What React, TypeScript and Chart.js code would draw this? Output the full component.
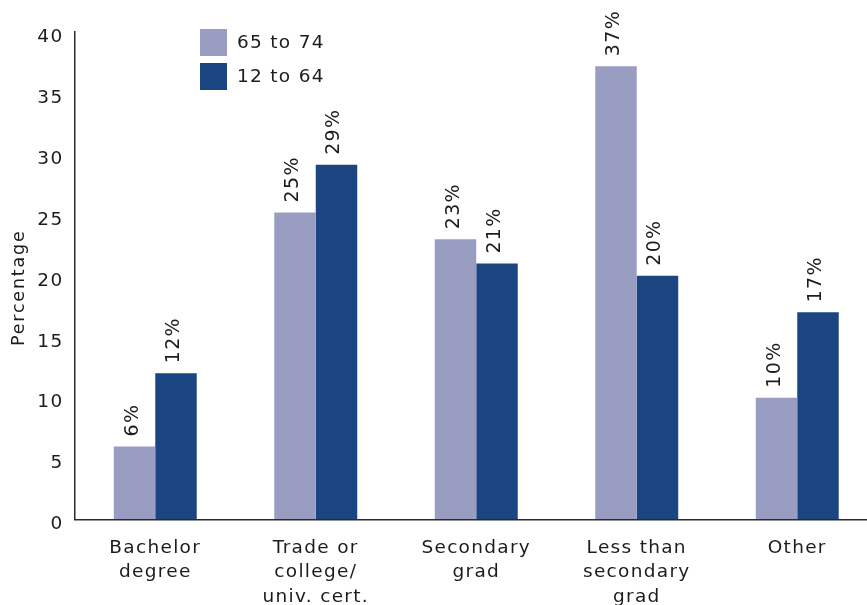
import { useEffect, useRef } from 'react';
import { Chart, registerables } from 'chart.js';

Chart.register(...registerables);

const categories: string[][] = [
  ['Bachelor', 'degree'],
  ['Trade or', 'college/', 'univ. cert.'],
  ['Secondary', 'grad'],
  ['Less than', 'secondary', 'grad'],
  ['Other'],
];
const seriesNames = ['65 to 74', '12 to 64'];
const values6574 = [6, 25.2, 23, 37.2, 10];
const values1264 = [12, 29.1, 21, 20, 17];
const labels6574 = ['6%', '25%', '23%', '37%', '10%'];
const labels1264 = ['12%', '29%', '21%', '20%', '17%'];
const yMin = 0;
const yMax = 40;
const yStep = 5;
const yTitle = 'Percentage';

const colorLight = '#9a9dc2';
const colorDark = '#1a4580';
const textColor = '#1c1c1c';
const FONT = '"DejaVu Sans", sans-serif';
const SPACING = '1.3px';

const spacingPlugin = {
  id: 'spacing',
  beforeLayout(chart: any) {
    chart.ctx.letterSpacing = SPACING;
  },
  beforeDraw(chart: any) {
    chart.ctx.letterSpacing = SPACING;
  },
};

const valueLabelPlugin = {
  id: 'valueLabels',
  afterDatasetsDraw(chart: any) {
    const ctx = chart.ctx;
    const allLabels = [labels6574, labels1264];
    chart.data.datasets.forEach((_ds: any, di: number) => {
      const meta = chart.getDatasetMeta(di);
      meta.data.forEach((el: any, i: number) => {
        ctx.save();
        ctx.letterSpacing = SPACING;
        ctx.translate(el.x + 3, el.y - 10);
        ctx.rotate(-Math.PI / 2);
        ctx.font = `19px ${FONT}`;
        ctx.fillStyle = textColor;
        ctx.textAlign = 'left';
        ctx.textBaseline = 'alphabetic';
        ctx.fillText(allLabels[di][i], 0, 0);
        ctx.restore();
      });
    });
  },
};

const legendPlugin = {
  id: 'customLegend',
  afterDraw(chart: any) {
    const { ctx, chartArea } = chart;
    ctx.save();
    ctx.letterSpacing = SPACING;
    chart.data.datasets.forEach((ds: any, i: number) => {
      const x = chartArea.left + 125;
      const y = chartArea.top - 3 + i * 34;
      ctx.fillStyle = ds.backgroundColor;
      ctx.fillRect(x, y, 27, 27);
      ctx.fillStyle = textColor;
      ctx.font = `18.5px ${FONT}`;
      ctx.textAlign = 'left';
      ctx.textBaseline = 'middle';
      ctx.fillText(ds.label, x + 37, y + 14);
    });
    // y axis title
    ctx.translate(19, (chartArea.top + chartArea.bottom) / 2 + 12);
    ctx.rotate(-Math.PI / 2);
    ctx.font = `17.5px ${FONT}`;
    ctx.letterSpacing = '1.8px';
    ctx.textAlign = 'center';
    ctx.textBaseline = 'middle';
    ctx.fillStyle = textColor;
    ctx.fillText(yTitle, 0, 0);
    ctx.restore();
  },
};

export default function App() {
  const ref = useRef<HTMLCanvasElement | null>(null);

  useEffect(() => {
    if (!ref.current) return;
    const chart = new Chart(ref.current, {
      type: 'bar',
      data: {
        labels: categories,
        datasets: [
          {
            label: seriesNames[0],
            data: values6574,
            backgroundColor: colorLight,
            borderWidth: 0,
            categoryPercentage: 0.517,
            barPercentage: 1,
          },
          {
            label: seriesNames[1],
            data: values1264,
            backgroundColor: colorDark,
            borderWidth: 0,
            categoryPercentage: 0.517,
            barPercentage: 1,
          },
        ],
      },
      options: {
        responsive: false,
        animation: false,
        devicePixelRatio: 1,
        layout: { padding: { left: 0, right: 2.5, top: 32, bottom: 0 } },
        plugins: {
          legend: { display: false },
          tooltip: { enabled: false },
          title: { display: false },
        },
        scales: {
          x: {
            grid: { display: true, drawOnChartArea: false, drawTicks: false },
            border: { display: true, color: '#2a2a2a', width: 1.5 },
            ticks: {
              color: textColor,
              font: { family: FONT, size: 18.5, lineHeight: 1.32 },
              padding: 16.5,
              maxRotation: 0,
              autoSkip: false,
            },
            afterFit(scale: any) {
              scale.height = 640 - 519.5;
            },
          },
          y: {
            min: yMin,
            max: yMax,
            grid: { display: true, drawOnChartArea: false, drawTicks: false },
            border: { display: true, color: '#2a2a2a', width: 1.5 },
            ticks: {
              stepSize: yStep,
              color: textColor,
              font: { family: FONT, size: 18.5 },
              padding: 11.5,
              labelOffset: 5,
            },
            afterFit(scale: any) {
              scale.width = 75;
            },
          },
        },
      },
      plugins: [spacingPlugin, valueLabelPlugin, legendPlugin],
    });
    return () => chart.destroy();
  }, []);

  return (
    <div
      style={{
        position: 'fixed',
        left: 0,
        top: 0,
        width: 867,
        height: 605,
        overflow: 'hidden',
        background: '#ffffff',
      }}
    >
      <canvas ref={ref} width={880} height={640} style={{ display: 'block' }} />
    </div>
  );
}
